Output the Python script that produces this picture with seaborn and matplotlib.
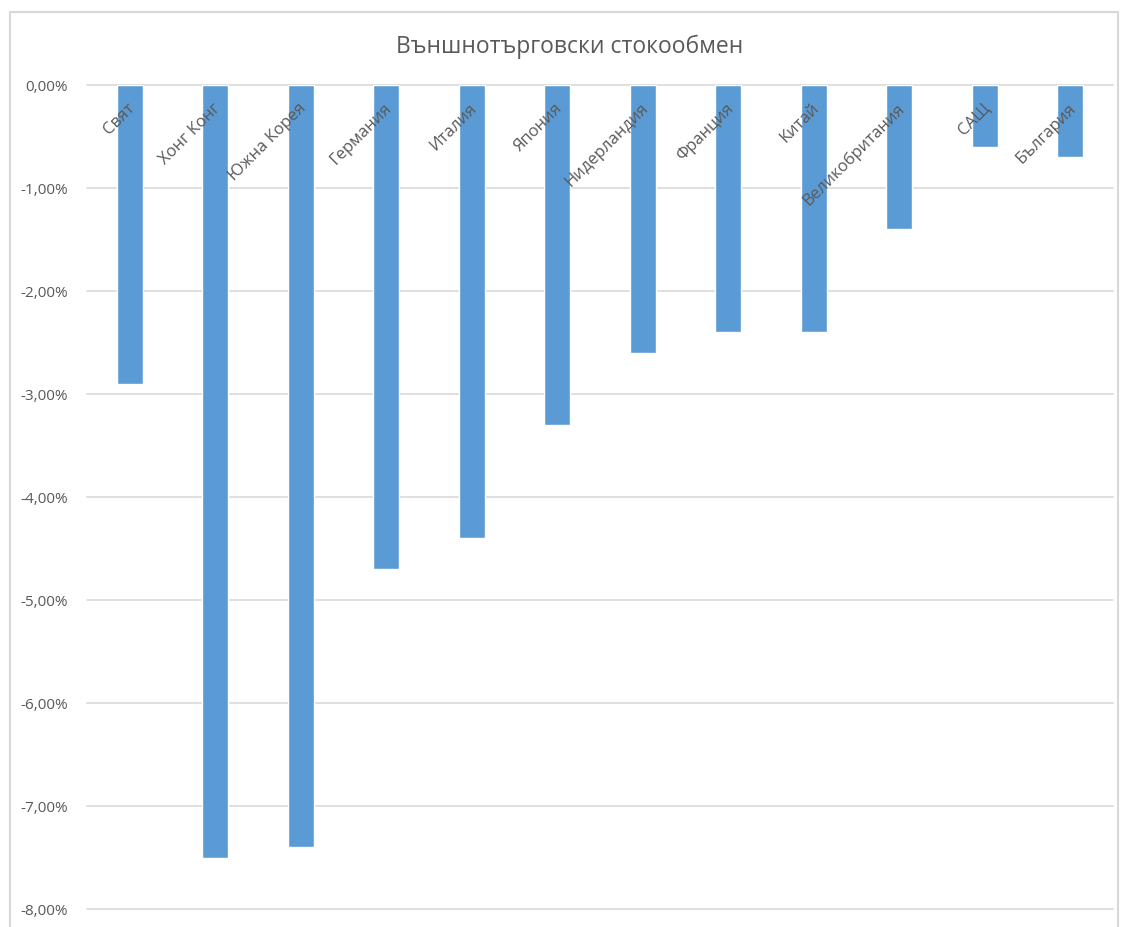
import numpy as np
import pandas as pd
import matplotlib
matplotlib.use("Agg")
import matplotlib.pyplot as plt
import matplotlib.transforms as mtransforms
from matplotlib.patches import Rectangle
from matplotlib.ticker import FuncFormatter
import seaborn as sns

# data (percent)
countries = ["Свят", "Хонг Конг", "Южна Корея", "Германия", "Италия", "Япония",
             "Нидерландия", "Франция", "Китай", "Великобритания", "САЩ", "България"]
change = [-2.9, -7.5, -7.4, -4.7, -4.4, -3.3, -2.6, -2.4, -2.4, -1.4, -0.6, -0.7]
yticks = [0, -1, -2, -3, -4, -5, -6, -7, -8]
title = "Външнотърговски стокообмен"

sns.set_style("white")
plt.rcParams['font.family'] = ['Open Sans', 'DejaVu Sans']
txt = "#595959"
grid = "#d9d9d9"

df = pd.DataFrame({"country": countries, "change": change})

fig = plt.figure(figsize=(11.22, 9.27), dpi=100)
ax = fig.add_axes([0.0775, 0.0194, 0.9145, 0.8889])

sns.barplot(data=df, x="country", y="change", color="#5B9BD5", saturation=1,
            width=0.3, ax=ax, zorder=3)

ax.set_ylim(-8, 0)
ax.set_xlim(-0.5, len(countries) - 0.5)
ax.set_yticks(yticks)
ax.yaxis.set_major_formatter(FuncFormatter(lambda v, p: f"{v:.2f}%".replace(".", ",").replace("-0,00", "0,00")))
ax.tick_params(axis="y", length=0, pad=14, labelsize=11, labelcolor=txt)
ax.set_xticks([])
ax.set_xlabel("")
ax.set_ylabel("")
for s in ax.spines.values():
    s.set_visible(False)
for t in yticks:
    ax.axhline(t, color=grid, lw=1.2, zorder=1, clip_on=False)

# category labels sit just under the zero line, rotated
off = mtransforms.offset_copy(ax.transData, fig=fig, x=3, y=-21, units="dots")
for i, name in enumerate(countries):
    ax.text(i, 0, name, transform=off, rotation=45, rotation_mode="anchor",
            ha="right", va="center", fontsize=12, color=txt, zorder=4)

fig.text(0.508, 0.950, title, ha="center", va="center", fontsize=16.5, color=txt)

# outer chart frame
fig.patches.append(Rectangle((10 / 1122, -0.01), 1108 / 1122, 1 - 12 / 927 + 0.01,
                             transform=fig.transFigure, fill=False, ec=grid, lw=1.5))

fig.savefig("out.png", dpi=100)
